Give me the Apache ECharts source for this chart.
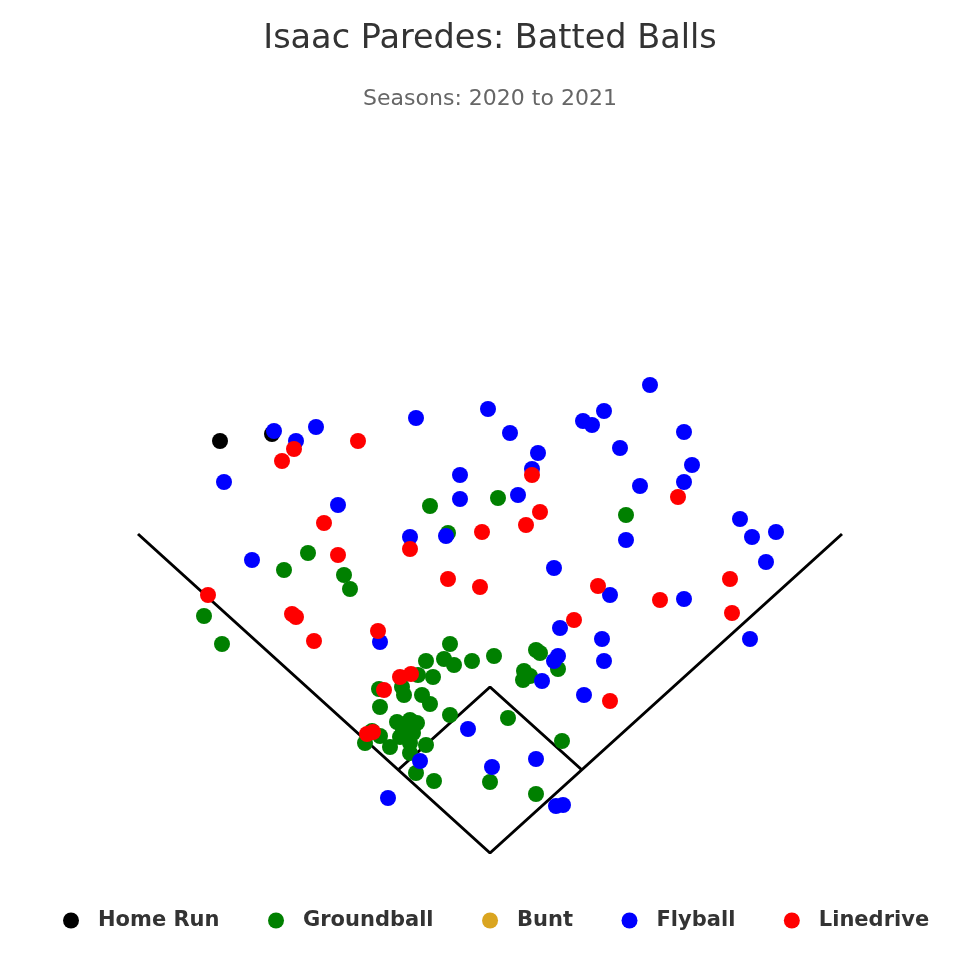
<!DOCTYPE html>
<html>
<head>
<meta charset="utf-8">
<script src="https://cdn.jsdelivr.net/npm/echarts@6/dist/echarts.min.js"></script>
<style>
  html, body { margin: 0; padding: 0; background: #fff; }
  #chart { width: 980px; height: 980px; }
</style>
</head>
<body>
<div id="chart"></div>
<script>
// hit locations, home plate at [0, 0]
var homeRun = [[-270, 412], [-218, 419]];

var groundball = [
    [-60, 347], [-42, 320], [8, 355], [136, 338], [-182, 300], [-206, 283],
    [-146, 278], [-140, 264], [-286, 237], [-268, 209], [-40, 209], [-64, 192],
    [-46, 194], [-36, 188], [-18, 192], [4, 197], [46, 203], [50, 200],
    [68, 184], [34, 182], [40, 177], [33, 173], [-72, 178], [-57, 176],
    [-111, 164], [-88, 166], [-86, 158], [-68, 158], [-60, 149], [-110, 146],
    [-40, 138], [18, 135], [-93, 131], [-80, 133], [-73, 130], [-87, 123],
    [-77, 120], [-90, 116], [-80, 110], [-118, 122], [-125, 110], [-110, 117],
    [-100, 106], [-80, 100], [-64, 108], [-74, 80], [-56, 72], [72, 112],
    [0, 71], [46, 59]
];

var bunt = [];

var flyball = [
    [-216, 422], [-194, 412], [-174, 426], [-74, 435], [-2, 444], [-266, 371],
    [-30, 378], [-30, 354], [-152, 348], [-80, 316], [-44, 317], [-238, 293],
    [160, 468], [20, 420], [48, 400], [42, 384], [93, 432], [102, 428],
    [114, 442], [194, 421], [130, 405], [202, 388], [194, 371], [150, 367],
    [28, 358], [136, 313], [250, 334], [262, 316], [286, 321], [276, 291],
    [64, 285], [120, 258], [194, 254], [260, 214], [70, 225], [112, 214],
    [114, 192], [68, 197], [64, 192], [52, 172], [94, 158], [-22, 124],
    [46, 94], [2, 86], [66, 47], [73, 48], [-110, 211], [-70, 92], [-102, 55]
];

var linedrive = [
    [-196, 404], [-208, 392], [-132, 412], [42, 378], [188, 356], [-166, 330],
    [-80, 304], [-8, 321], [50, 341], [36, 328], [-152, 298], [-42, 274],
    [-10, 266], [-282, 258], [-198, 239], [-194, 236], [108, 267], [170, 253],
    [240, 274], [242, 240], [84, 233], [-176, 212], [-112, 222], [-90, 176],
    [-79, 179], [-106, 163], [-123, 119], [-117, 121], [120, 152]
];

// field outline
var foulLines = [[-352, 319], [0, 0], [352, 319]];
var infield = [[-92, 83], [0, 166], [92, 83]];

var myChart = echarts.init(document.getElementById('chart'));

function dots(name, data, color) {
    return {
        name: name,
        type: 'scatter',
        data: data,
        symbol: 'circle',
        symbolSize: 16,
        itemStyle: { color: color, opacity: 1 },
        emphasis: { disabled: true },
        z: 3
    };
}

function fieldLine(data) {
    return {
        type: 'line',
        data: data,
        symbol: 'none',
        silent: true,
        lineStyle: { color: '#000', width: 3 },
        z: 2
    };
}

var option = {
    animation: false,
    backgroundColor: '#fff',
    title: {
        text: 'Isaac Paredes: Batted Balls',
        subtext: 'Seasons: 2020 to 2021',
        left: 'center',
        top: 17,
        itemGap: 32,
        textStyle: {
            fontFamily: 'DejaVu Sans',
            fontSize: 33.5,
            fontWeight: 'normal',
            color: '#333333'
        },
        subtextStyle: {
            fontFamily: 'DejaVu Sans',
            fontSize: 22,
            color: '#666666'
        }
    },
    legend: {
        data: ['Home Run', 'Groundball', 'Bunt', 'Flyball', 'Linedrive'],
        top: 905,
        left: 58,
        icon: 'circle',
        itemWidth: 16,
        itemHeight: 16,
        itemGap: 48.5,
        textStyle: {
            fontFamily: 'DejaVu Sans',
            fontSize: 21,
            fontWeight: 'bold',
            color: '#333333',
            padding: [0, 0, 0, 14]
        }
    },
    grid: {
        left: 40,
        right: 40,
        top: 133,
        bottom: 127
    },
    xAxis: {
        type: 'value',
        min: -450,
        max: 450,
        show: false
    },
    yAxis: {
        type: 'value',
        min: 0,
        max: 720,
        show: false
    },
    series: [
        fieldLine(foulLines),
        fieldLine(infield),
        dots('Home Run', homeRun, '#000000'),
        dots('Groundball', groundball, '#008000'),
        dots('Bunt', bunt, '#DAA520'),
        dots('Flyball', flyball, '#0000FF'),
        dots('Linedrive', linedrive, '#FF0000')
    ]
};

myChart.setOption(option);
</script>
</body>
</html>
